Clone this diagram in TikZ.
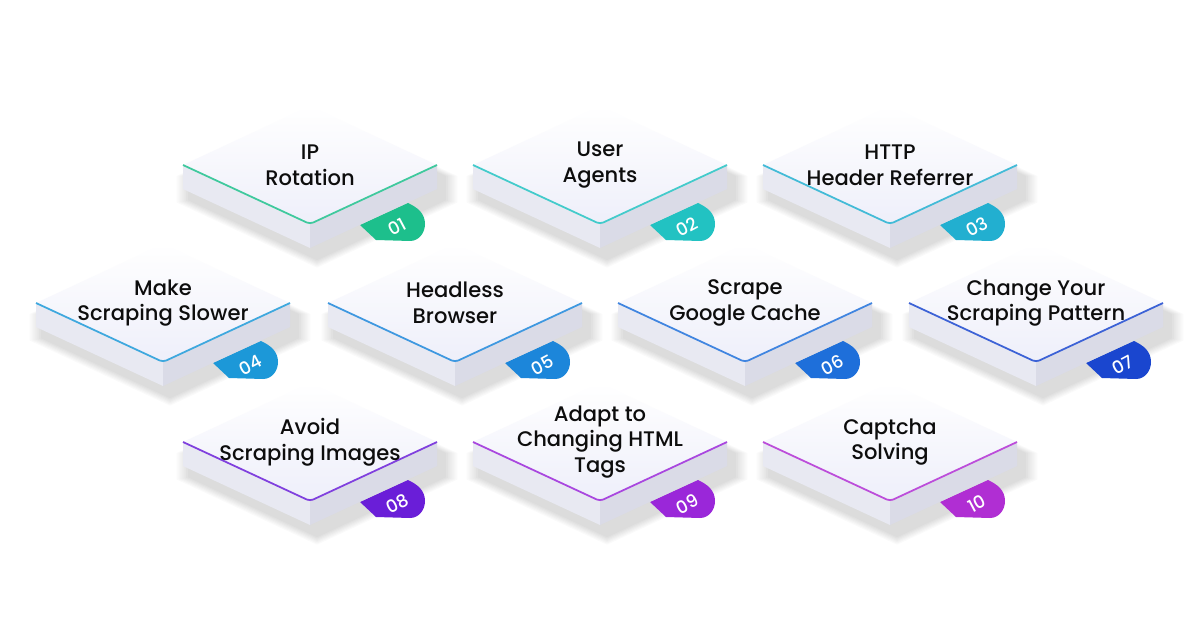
\documentclass[tikz,border=0pt]{standalone}
\usepackage{fontspec}
\setmainfont{Poppins}
\newfontfamily\medfont{Poppins Medium}
\usepackage{tikz}
\usetikzlibrary{calc}

\definecolor{topface}{HTML}{EEEFFA}
\definecolor{sideleft}{HTML}{E8E9F2}
\definecolor{sideright}{HTML}{DADBE7}
\definecolor{c01}{HTML}{1DBF8C}
\definecolor{c02}{HTML}{22C2C2}
\definecolor{c03}{HTML}{22AFD0}
\definecolor{c04}{HTML}{1C98D8}
\definecolor{c05}{HTML}{1C86DA}
\definecolor{c06}{HTML}{1E6FDA}
\definecolor{c07}{HTML}{1A46CF}
\definecolor{c08}{HTML}{6A1ED8}
\definecolor{c09}{HTML}{9A27D9}
\definecolor{c10}{HTML}{B02ED3}

\tikzset{
  label text/.style={font=\medfont\fontsize{12}{14.6}\selectfont, align=center, text=black!95},
  num text/.style={font=\medfont\fontsize{10}{10}\selectfont, text=white, inner sep=1pt},
  edge line/.style={line width=1pt, rounded corners=2pt},
}

% one block: centre x, centre y, colour, number, label
\newcommand{\block}[5]{%
  \begin{scope}[shift={(#1,#2)}]
    % soft shadow on the floor
    \foreach \i in {1,...,7}
      \fill[black, opacity=0.02, shift={(7,11)}, scale=1+0.015*\i]
        (-127,0) -- (0,-59) -- (127,0) -- (127,24) -- (0,83) -- (-127,24) -- cycle;
    % number tab under the block
    \fill[#3] (50,60) -- (98,38) to[out=-25,in=90] (115,59) to[out=-90,in=0] (100,76) -- (66,75) -- cycle;
    % side faces
    \fill[sideleft] (-127,0) -- (0,59) -- (0,83) -- (-127,24) -- cycle;
    \fill[sideright] (0,59) -- (127,0) -- (127,24) -- (0,83) -- cycle;
    % top face
    \shade[top color=white, bottom color=topface] (-127,0) -- (0,-59) -- (127,0) -- (0,59) -- cycle;
    \draw[#3!85, edge line] (-127,0) -- (0,59) -- (127,0);
    \node[label text] (lbl#4) at (0,0) {#5};
    \node[num text, rotate=28] (num#4) at (87,62) {#4};
  \end{scope}}

\begin{document}
\begin{tikzpicture}[x=0.02cm, y=-0.02cm]
  \useasboundingbox (0,0) rectangle (1200,628);
  \fill[white] (0,0) rectangle (1200,628);

  % top row
  \block{310}{165}{c01}{01}{IP\\Rotation}
  \block{600}{165}{c02}{02}{User\\Agents}
  \block{890}{165}{c03}{03}{HTTP\\Header Referrer}

  % middle row
  \block{163}{303}{c04}{04}{Make\\Scraping Slower}
  \block{455}{303}{c05}{05}{Headless\\Browser}
  \block{745}{303}{c06}{06}{Scrape\\Google Cache}
  \block{1036}{303}{c07}{07}{Change Your\\Scraping Pattern}

  % bottom row
  \block{310}{442}{c08}{08}{Avoid\\Scraping Images}
  \block{600}{442}{c09}{09}{Adapt to\\Changing HTML\\Tags}
  \block{890}{442}{c10}{10}{Captcha\\Solving}
\end{tikzpicture}
\end{document}
